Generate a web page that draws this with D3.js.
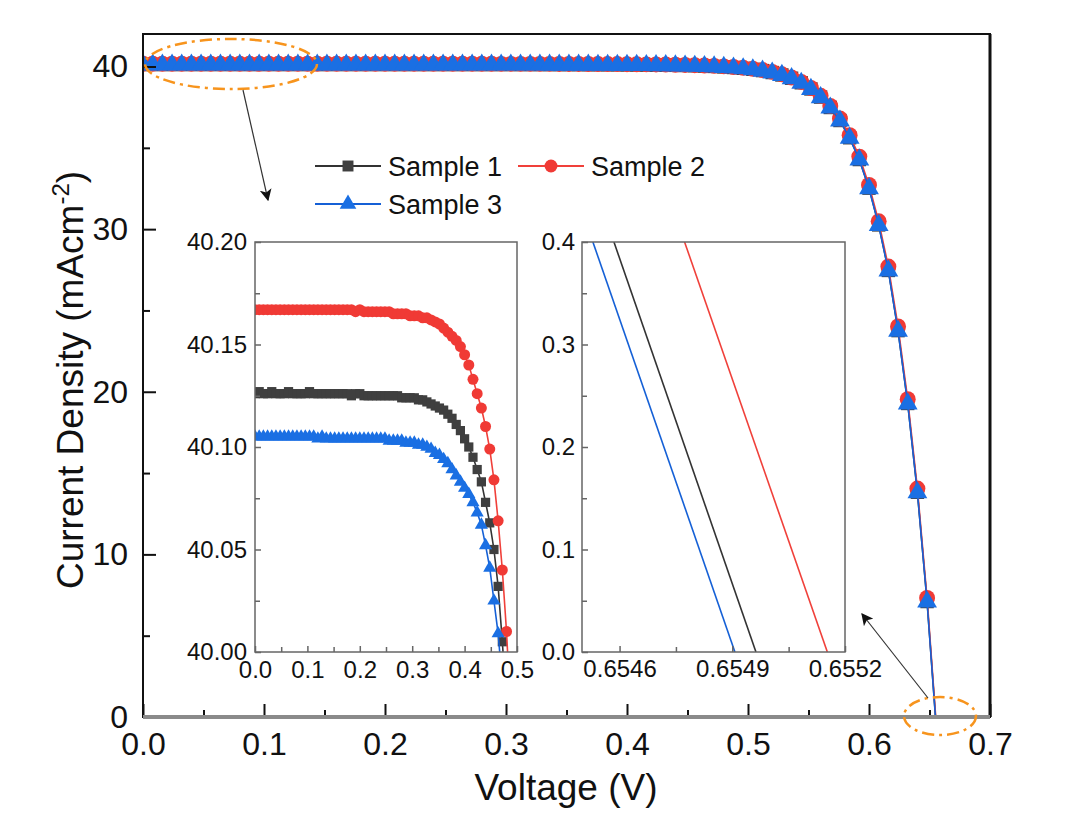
<!DOCTYPE html>
<html>
<head>
<meta charset="utf-8">
<script src="https://cdnjs.cloudflare.com/ajax/libs/d3/7.8.5/d3.min.js"></script>
<style>
  body { margin: 0; background: #fff; }
  svg text { font-family: "Liberation Sans", Arial, sans-serif; fill: #111; }
</style>
</head>
<body>
<script>
// J-V sweep (V in volts, J in mA/cm2)
var voltage = [
  0.000, 0.008, 0.016, 0.024, 0.032, 0.040, 0.048, 0.056, 0.064, 0.072,
  0.080, 0.088, 0.096, 0.104, 0.112, 0.120, 0.128, 0.136, 0.144, 0.152,
  0.160, 0.168, 0.176, 0.184, 0.192, 0.200, 0.208, 0.216, 0.224, 0.232,
  0.240, 0.248, 0.256, 0.264, 0.272, 0.280, 0.288, 0.296, 0.304, 0.312,
  0.320, 0.328, 0.336, 0.344, 0.352, 0.360, 0.368, 0.376, 0.384, 0.392,
  0.400, 0.408, 0.416, 0.424, 0.432, 0.440, 0.448, 0.456, 0.464, 0.472,
  0.480, 0.488, 0.496, 0.504, 0.512, 0.520, 0.528, 0.536, 0.544, 0.552,
  0.560, 0.568, 0.576, 0.584, 0.592, 0.600, 0.608, 0.616, 0.624, 0.632,
  0.640, 0.648
];
var sample1 = [
  40.126, 40.127, 40.126, 40.126, 40.127, 40.126, 40.126, 40.126, 40.127, 40.126,
  40.126, 40.126, 40.126, 40.127, 40.126, 40.126, 40.126, 40.126, 40.126, 40.126,
  40.126, 40.126, 40.126, 40.125, 40.126, 40.126, 40.125, 40.125, 40.125, 40.125,
  40.125, 40.125, 40.125, 40.125, 40.125, 40.124, 40.124, 40.124, 40.124, 40.123,
  40.123, 40.122, 40.121, 40.120, 40.119, 40.118, 40.116, 40.114, 40.111, 40.108,
  40.104, 40.100, 40.095, 40.089, 40.083, 40.073, 40.063, 40.050, 40.032, 40.005,
  39.975, 39.94, 39.89, 39.83, 39.75, 39.63, 39.48, 39.28, 39.00, 38.62,
  38.12, 37.48, 36.68, 35.62, 34.28, 32.52, 30.26, 27.46, 23.76, 19.28,
  13.82, 7.10
];
var sample2 = [
  40.167, 40.167, 40.167, 40.167, 40.167, 40.167, 40.167, 40.167, 40.167, 40.167,
  40.167, 40.167, 40.167, 40.167, 40.167, 40.167, 40.167, 40.167, 40.167, 40.167,
  40.167, 40.167, 40.167, 40.167, 40.166, 40.167, 40.166, 40.166, 40.166, 40.166,
  40.166, 40.166, 40.166, 40.165, 40.165, 40.165, 40.165, 40.164, 40.164, 40.164,
  40.163, 40.163, 40.162, 40.161, 40.160, 40.158, 40.156, 40.154, 40.152, 40.149,
  40.145, 40.140, 40.133, 40.126, 40.119, 40.110, 40.099, 40.084, 40.064, 40.040,
  40.010, 39.97, 39.92, 39.86, 39.78, 39.67, 39.52, 39.32, 39.05, 38.68,
  38.20, 37.58, 36.80, 35.78, 34.46, 32.72, 30.48, 27.70, 24.02, 19.54,
  14.05, 7.32
];
var sample3 = [
  40.105, 40.105, 40.105, 40.105, 40.105, 40.105, 40.105, 40.105, 40.105, 40.105,
  40.105, 40.105, 40.105, 40.105, 40.105, 40.104, 40.105, 40.104, 40.104, 40.104,
  40.104, 40.104, 40.104, 40.104, 40.104, 40.104, 40.104, 40.104, 40.104, 40.104,
  40.104, 40.104, 40.103, 40.103, 40.103, 40.103, 40.102, 40.102, 40.102, 40.101,
  40.101, 40.100, 40.099, 40.097, 40.096, 40.094, 40.092, 40.089, 40.086, 40.083,
  40.080, 40.077, 40.073, 40.068, 40.062, 40.052, 40.041, 40.025, 40.009, 39.985,
  39.955, 39.92, 39.87, 39.81, 39.73, 39.61, 39.46, 39.26, 38.98, 38.60,
  38.10, 37.46, 36.66, 35.60, 34.26, 32.50, 30.24, 27.44, 23.74, 19.26,
  13.80, 7.08
];
// close-up around open circuit voltage (right inset)
var vocJ = [0.4, 0.0];
var vocV1 = [0.654585, 0.654963];
var vocV2 = [0.654773, 0.655153];
var vocV3 = [0.654529, 0.654907];

var names = ["Sample 1", "Sample 2", "Sample 3"];
var colors = ["#3f3f3f", "#f03a35", "#1a6fe3"];
var lineColors = ["#333333", "#f0403a", "#1560d6"];

var mainXTicks = [0.0, 0.1, 0.2, 0.3, 0.4, 0.5, 0.6, 0.7];
var mainYTicks = [0, 10, 20, 30, 40];
var leftXTicks = [0.0, 0.1, 0.2, 0.3, 0.4, 0.5];
var leftYTicks = [40.00, 40.05, 40.10, 40.15, 40.20];
var rightXTicks = [0.6546, 0.6549, 0.6552];
var rightYTicks = [0.0, 0.1, 0.2, 0.3, 0.4];

var W = 1080, H = 834;
var svg = d3.select("body").append("svg").attr("width", W).attr("height", H);
svg.append("rect").attr("width", W).attr("height", H).attr("fill", "#fff");
var defs = svg.append("defs");

var series = [sample1, sample2, sample3];
var vocV = [vocV1, vocV2, vocV3];
var shapes = [d3.symbolSquare, d3.symbolCircle, d3.symbolTriangle];

// scales
var x = d3.scaleLinear().domain([0, 0.7]).range([143, 990]);
var y = d3.scaleLinear().domain([0, 42]).range([717, 34]);
var xL = d3.scaleLinear().domain([0, 0.5]).range([255, 517]);
var yL = d3.scaleLinear().domain([40, 40.2]).range([652, 242]);
var xR = d3.scaleLinear().domain([0.6545, 0.6552]).range([582, 845]);
var yR = d3.scaleLinear().domain([0, 0.4]).range([652, 242]);

function clipFor(id, xs, ys) {
  defs.append("clipPath").attr("id", id).append("rect")
    .attr("x", xs.range()[0]).attr("y", ys.range()[1])
    .attr("width", xs.range()[1] - xs.range()[0])
    .attr("height", ys.range()[0] - ys.range()[1]);
  return "url(#" + id + ")";
}

// axes helper: inward ticks, major + minor
function axes(xs, ys, o) {
  var g = svg.append("g");
  g.append("g").attr("transform", "translate(0," + ys.range()[0] + ")")
    .call(d3.axisBottom(xs).tickValues(o.xMinor).tickSize(-o.minor).tickFormat(""));
  g.append("g").attr("transform", "translate(" + xs.range()[0] + ",0)")
    .call(d3.axisLeft(ys).tickValues(o.yMinor).tickSize(-o.minor).tickFormat(""));
  g.append("g").attr("transform", "translate(0," + ys.range()[0] + ")")
    .call(d3.axisBottom(xs).tickValues(o.xTicks).tickSize(-o.major)
      .tickPadding(o.xPad).tickFormat(o.xFmt));
  g.append("g").attr("transform", "translate(" + xs.range()[0] + ",0)")
    .call(d3.axisLeft(ys).tickValues(o.yTicks).tickSize(-o.major)
      .tickPadding(o.yPad).tickFormat(o.yFmt));
  g.selectAll(".domain").remove();
  g.selectAll(".tick line").attr("stroke", o.tickColor).attr("stroke-width", o.tickW);
  g.selectAll("text").attr("font-size", o.font).attr("fill", "#111")
    .attr("font-family", '"Liberation Sans", Arial, sans-serif');
  return g;
}

function drawSeries(xs, ys, clip, k, mSize, withVoc) {
  var g = svg.append("g").attr("clip-path", clip);
  var pts = voltage.map(function(v, i) { return [v, series[k][i]]; });
  var linePts = withVoc ? pts.concat(vocV[k].map(function(v, i) { return [v, vocJ[i]]; })) : pts;
  g.append("path").datum(linePts)
    .attr("fill", "none").attr("stroke", lineColors[k]).attr("stroke-width", 1.6)
    .attr("d", d3.line().x(function(d) { return xs(d[0]); }).y(function(d) { return ys(d[1]); }));
  g.selectAll("path.m").data(pts).enter().append("path").attr("class", "m")
    .attr("transform", function(d) { return "translate(" + xs(d[0]) + "," + ys(d[1]) + ")"; })
    .attr("d", d3.symbol().type(shapes[k]).size(mSize[k]))
    .attr("fill", colors[k]);
}

// ---- main plot ----
var clipMain = clipFor("cMain", x, y);
[0, 1, 2].forEach(function(k) { drawSeries(x, y, clipMain, k, [180, 200, 170], true); });

svg.append("rect").attr("x", 143).attr("y", 34).attr("width", 847).attr("height", 683)
  .attr("fill", "none").attr("stroke", "#111").attr("stroke-width", 2);
svg.append("line").attr("x1", 990).attr("x2", 990).attr("y1", 34).attr("y2", 717)
  .attr("stroke", "#111").attr("stroke-width", 3);

axes(x, y, {
  xTicks: mainXTicks, xMinor: [0.05, 0.15, 0.25, 0.35, 0.45, 0.55, 0.65],
  yTicks: mainYTicks, yMinor: [5, 15, 25, 35],
  major: 13, minor: 7, xPad: 15, yPad: 15, font: 32, tickColor: "#111", tickW: 2,
  xFmt: d3.format(".1f"), yFmt: d3.format("d")
});
svg.append("line").attr("x1", 143).attr("x2", 990).attr("y1", 717).attr("y2", 717)
  .attr("stroke", "#8a8a8a").attr("stroke-width", 4);

svg.append("text").attr("x", 566).attr("y", 800).attr("text-anchor", "middle")
  .attr("font-size", 37).text("Voltage (V)");
var yt = svg.append("text").attr("transform", "translate(83,380) rotate(-90)")
  .attr("text-anchor", "middle").attr("font-size", 37);
yt.append("tspan").text("Current Density (mAcm");
yt.append("tspan").attr("dy", -14).attr("font-size", 24).text("-2");
yt.append("tspan").attr("dy", 14).text(")");

// ---- left inset ----
var clipL = clipFor("cL", xL, yL);
[0, 1, 2].forEach(function(k) { drawSeries(xL, yL, clipL, k, [85, 95, 75], false); });
svg.append("rect").attr("x", 255).attr("y", 242).attr("width", 262).attr("height", 410)
  .attr("fill", "none").attr("stroke", "#666").attr("stroke-width", 1.5);
axes(xL, yL, {
  xTicks: leftXTicks, xMinor: [0.05, 0.15, 0.25, 0.35, 0.45],
  yTicks: leftYTicks, yMinor: [40.025, 40.075, 40.125, 40.175],
  major: 6, minor: 5, xPad: 9, yPad: 8, font: 24, tickColor: "#666", tickW: 1.5,
  xFmt: d3.format(".1f"), yFmt: d3.format(".2f")
});

// ---- right inset ----
var clipR = clipFor("cR", xR, yR);
[0, 1, 2].forEach(function(k) {
  svg.append("path").attr("clip-path", clipR)
    .datum(vocV[k].map(function(v, i) { return [v, vocJ[i]]; }))
    .attr("fill", "none").attr("stroke", lineColors[k]).attr("stroke-width", 1.6)
    .attr("d", d3.line().x(function(d) { return xR(d[0]); }).y(function(d) { return yR(d[1]); }));
});
svg.append("rect").attr("x", 582).attr("y", 242).attr("width", 263).attr("height", 410)
  .attr("fill", "none").attr("stroke", "#666").attr("stroke-width", 1.5);
axes(xR, yR, {
  xTicks: rightXTicks, xMinor: [0.65475, 0.65505],
  yTicks: rightYTicks, yMinor: [0.05, 0.15, 0.25, 0.35],
  major: 6, minor: 5, xPad: 8, yPad: 7, font: 24, tickColor: "#666", tickW: 1.5,
  xFmt: d3.format(".4f"), yFmt: d3.format(".1f")
});

// ---- legend ----
var legendPos = [[315, 166], [518, 166], [315, 204]];
names.forEach(function(n, k) {
  var p = legendPos[k];
  var lg = svg.append("g").attr("transform", "translate(" + p[0] + "," + p[1] + ")");
  lg.append("line").attr("x1", 0).attr("x2", 66).attr("stroke", lineColors[k]).attr("stroke-width", 1.8);
  lg.append("path").attr("transform", "translate(33,0)")
    .attr("d", d3.symbol().type(shapes[k]).size([120, 130, 120][k])).attr("fill", colors[k]);
  lg.append("text").attr("x", 73).attr("y", 10).attr("font-size", 27).text(n);
});

// ---- annotations ----
var orange = "#f7941d";
var dash = "12,5,3,5";
svg.append("ellipse").attr("cx", 231).attr("cy", 64).attr("rx", 86).attr("ry", 25)
  .attr("fill", "none").attr("stroke", orange).attr("stroke-width", 2.5).attr("stroke-dasharray", dash);
svg.append("ellipse").attr("cx", 940).attr("cy", 716).attr("rx", 36).attr("ry", 19)
  .attr("fill", "none").attr("stroke", orange).attr("stroke-width", 2.5).attr("stroke-dasharray", dash);

defs.append("marker").attr("id", "arr").attr("viewBox", "0 0 10 10")
  .attr("refX", 9).attr("refY", 5).attr("markerWidth", 12).attr("markerHeight", 12)
  .attr("markerUnits", "userSpaceOnUse").attr("orient", "auto")
  .append("path").attr("d", "M0,0 L10,5 L0,10 L2.5,5 Z").attr("fill", "#111");
svg.append("line").attr("x1", 243).attr("y1", 90).attr("x2", 268).attr("y2", 200)
  .attr("stroke", "#333").attr("stroke-width", 1.2).attr("marker-end", "url(#arr)");
svg.append("line").attr("x1", 928).attr("y1", 698).attr("x2", 862).attr("y2", 614)
  .attr("stroke", "#333").attr("stroke-width", 1.2).attr("marker-end", "url(#arr)");
</script>
</body>
</html>
